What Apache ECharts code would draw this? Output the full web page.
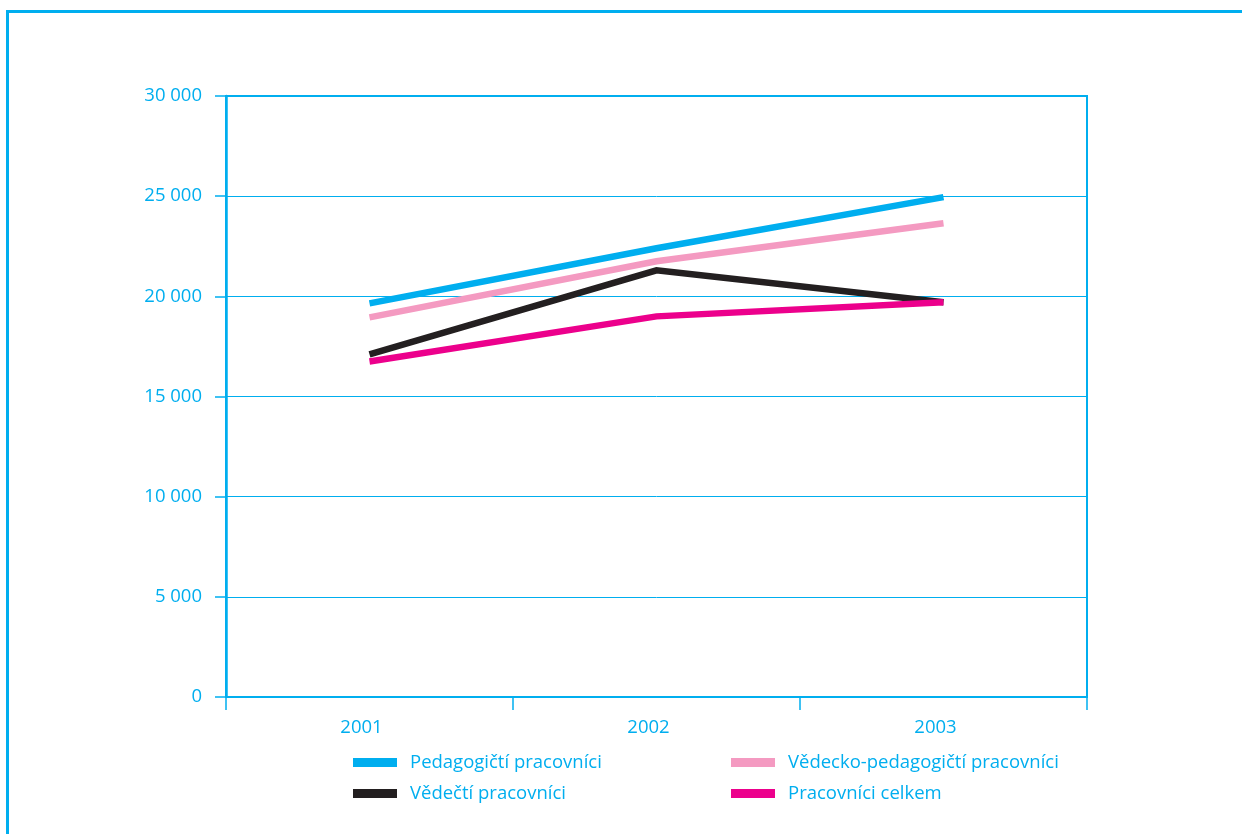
<!DOCTYPE html>
<html><head><meta charset="utf-8">
<script src="https://cdn.jsdelivr.net/npm/echarts@6/dist/echarts.min.js"></script>
<style>html,body{margin:0;padding:0;background:#fff}#c{width:1242px;height:834px}</style>
</head><body><div id="c"></div>
<script>
const categories = ['2001', '2002', '2003'];
const pedagogicti = [19650, 22400, 24950];
const vedeckoPedagogicti = [18950, 21750, 23650];
const vedecti = [17100, 21300, 19700];
const celkem = [16750, 19000, 19700];
const yTicks = [0, 5000, 10000, 15000, 20000, 25000, 30000];

const CYAN = '#00AEEF';
const FONT = 'Open Sans';
const FS = 18.5;
const chart = echarts.init(document.getElementById('c'), null, {renderer: 'canvas'});
function fmt(v){ return String(v).replace(/\B(?=(\d{3})+(?!\d))/g, ' '); }
const line = (name, data, color) => ({
  name, type: 'line', data, symbol: 'none', silent: true,
  itemStyle: {color},
  lineStyle: {color, width: 6.5, cap: 'butt', join: 'miter'}
});
const legendBase = {
  orient: 'vertical', top: 751, icon: 'rect', padding: 0,
  itemWidth: 44, itemHeight: 9, itemGap: 8,
  textStyle: {color: CYAN, fontSize: FS, fontFamily: FONT, padding: [0, 0, 0, 8], lineHeight: 23}
};
chart.setOption({
  animation: false,
  backgroundColor: '#fff',
  textStyle: {fontFamily: FONT},
  graphic: [{
    type: 'polyline', silent: true,
    shape: {points: [[7.5, 840], [7.5, 11.5], [1250, 11.5]]},
    style: {stroke: CYAN, lineWidth: 3, fill: null}
  }],
  grid: {left: 226, right: 155, top: 96, bottom: 137, show: true, borderColor: CYAN, borderWidth: 2, backgroundColor: 'transparent'},
  legend: [
    Object.assign({}, legendBase, {data: ['Pedagogičtí pracovníci', 'Vědečtí pracovníci'], left: 353}),
    Object.assign({}, legendBase, {data: ['Vědecko-pedagogičtí pracovníci', 'Pracovníci celkem'], left: 731})
  ],
  xAxis: {
    type: 'category', data: categories, boundaryGap: true,
    axisLine: {lineStyle: {color: CYAN, width: 1.5}},
    axisTick: {show: true, inside: false, length: 13, interval: 0, lineStyle: {color: CYAN, width: 1.5}},
    axisLabel: {color: CYAN, fontSize: FS, fontFamily: FONT, margin: 21, padding: [0, 16, 0, 0]},
    splitLine: {show: false}
  },
  yAxis: {
    type: 'value', min: 0, max: 30000, interval: 5000,
    axisLine: {show: true, lineStyle: {color: CYAN, width: 2.5}},
    axisTick: {show: true, inside: false, length: 11, lineStyle: {color: CYAN, width: 1.5}},
    axisLabel: {color: CYAN, fontSize: FS, fontFamily: FONT, margin: 24,
      formatter: v => yTicks.includes(v) ? fmt(v) : ''},
    splitLine: {show: true, lineStyle: {color: CYAN, width: 1}}
  },
  series: [
    line('Vědecko-pedagogičtí pracovníci', vedeckoPedagogicti, '#F49AC1'),
    line('Pedagogičtí pracovníci', pedagogicti, '#00AEEF'),
    line('Vědečtí pracovníci', vedecti, '#231F20'),
    line('Pracovníci celkem', celkem, '#EC008C')
  ]
});
</script>
</body></html>
